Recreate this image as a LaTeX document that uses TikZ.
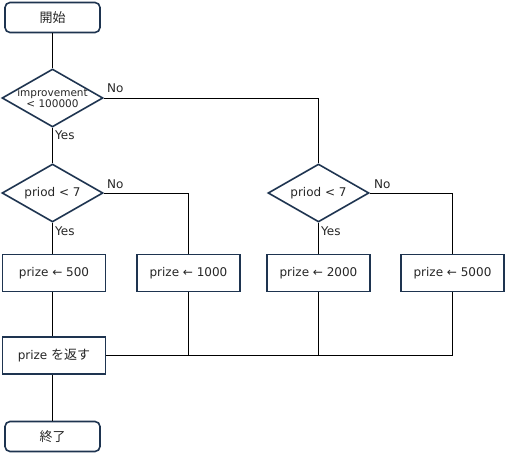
\documentclass[tikz,border=0pt]{standalone}
\usepackage{fontspec}
\setmainfont{DejaVu Sans}
\newfontfamily\jp{Noto Sans CJK JP}
\usepackage{tikz}
\usetikzlibrary{shapes.geometric}
\definecolor{edge}{RGB}{30,52,80}
\begin{document}
\begin{tikzpicture}[x=1pt, y=-1pt, every node/.style={font=\fontsize{12}{14}\selectfont, text=black!85},
	term/.style={draw=edge, line width=1.6pt, rounded corners=5pt, minimum width=95pt, minimum height=30pt, inner sep=0pt},
	proc/.style={draw=edge, line width=1.6pt, minimum width=103pt, minimum height=37pt, inner sep=0pt},
	decision/.style={draw=edge, line width=1.6pt, diamond, aspect=1.74, minimum width=101pt, minimum height=58pt, inner sep=0pt, align=center},
	flow/.style={draw=black, line width=0.8pt},
	tag/.style={inner sep=0pt, anchor=west}]
	\useasboundingbox (0,0) rectangle (506,454);
	\node[term, font=\jp\fontsize{13}{15}\selectfont] (start) at (52.5,17.5) {開始};
	\node[decision, inner xsep=-16pt, inner ysep=-3pt, font=\fontsize{10.5}{11.5}\selectfont] (d1) at (52.5,98) {improvement\\< 100000};
	\node[decision] (d2) at (52.5,193) {priod < 7};
	\node[decision] (d3) at (318.5,193) {priod < 7};
	\node[proc] (p500) at (54,273) {prize ← 500};
	\node[proc] (p1000) at (188.5,273) {prize ← 1000};
	\node[proc] (p2000) at (318.5,273) {prize ← 2000};
	\node[proc] (p5000) at (452.5,273) {prize ← 5000};
	\node[proc] (ret) at (54,355.5) {prize {\jp\fontsize{13}{15}\selectfont を返す}};
	\node[term, font=\jp\fontsize{13}{15}\selectfont] (stop) at (52.5,436.5) {終了};
	\node[tag] (no1) at (107,88) {No};
	\node[tag] (yes1) at (55,135) {Yes};
	\node[tag] (no2) at (107,184) {No};
	\node[tag] (yes2) at (55,231) {Yes};
	\node[tag] (no3) at (374,184) {No};
	\node[tag] (yes3) at (321,231) {Yes};
	\coordinate (join) at (ret.east -| p5000.south);
	\draw[flow] (start) -- (d1);
	\draw[flow] (d1) -- (d2);
	\draw[flow] (d1.east) -| (d3.north);
	\draw[flow] (d2.south) -- (d2.south |- p500.north);
	\draw[flow] (d2.east) -| (p1000.north);
	\draw[flow] (d3) -- (p2000);
	\draw[flow] (d3.east) -| (p5000.north);
	\draw[flow] (d2.south |- p500.south) -- (d2.south |- ret.north);
	\draw[flow] (ret.east) -- (join);
	\draw[flow] (p1000.south) -- (p1000.south |- join);
	\draw[flow] (p2000.south) -- (p2000.south |- join);
	\draw[flow] (p5000.south) -- (join);
	\draw[flow] (stop.north |- ret.south) -- (stop.north);
\end{tikzpicture}
\end{document}
